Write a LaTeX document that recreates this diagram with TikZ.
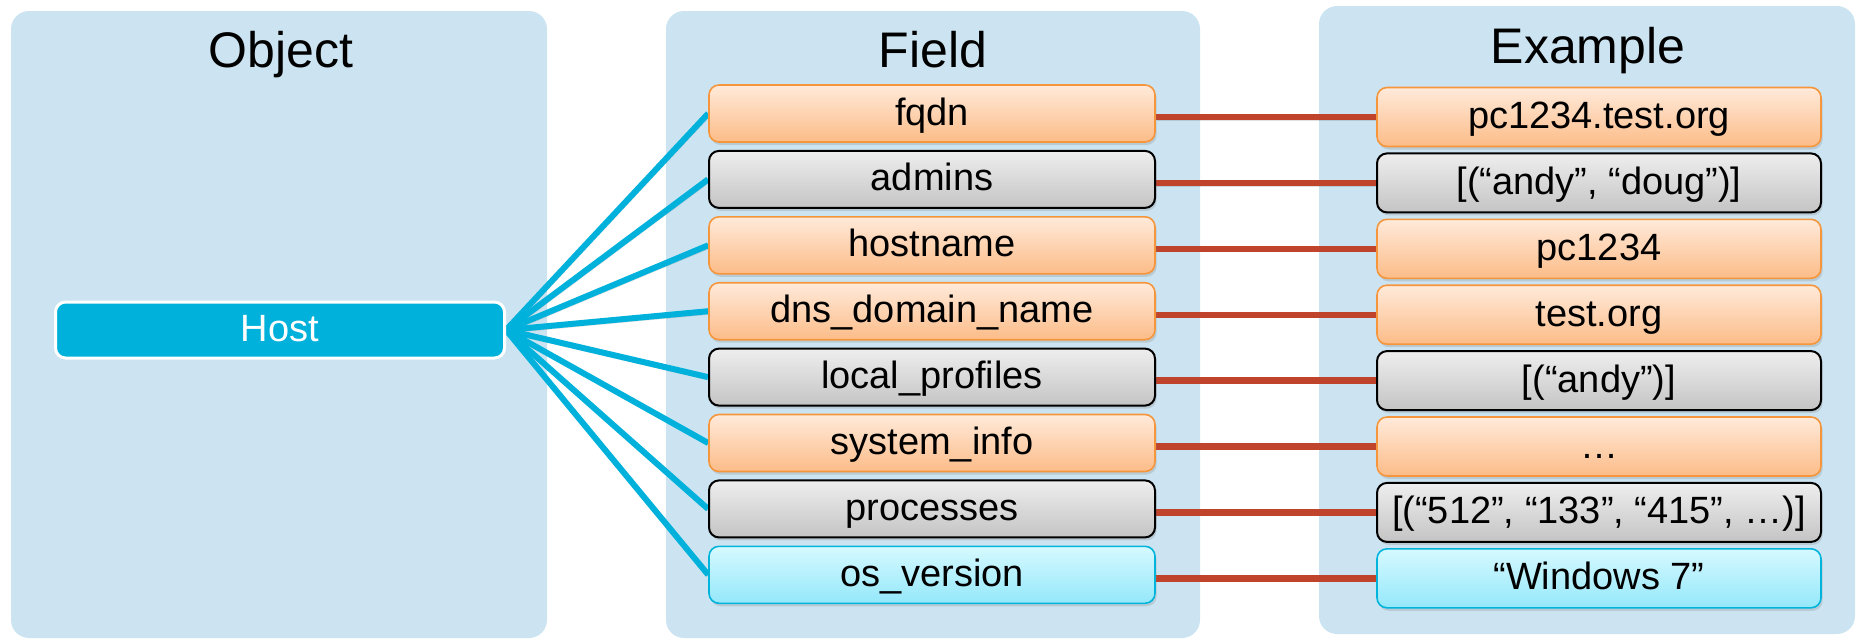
\documentclass[tikz,border=0pt]{standalone}
\usepackage{fontspec}
\setmainfont{Liberation Sans}
\usetikzlibrary{shadows}

\definecolor{panel}{RGB}{204,228,241}
\definecolor{hostblue}{RGB}{0,178,219}
\definecolor{linkred}{RGB}{192,68,44}
\definecolor{orangetop}{RGB}{255,234,218}
\definecolor{orangebot}{RGB}{252,188,136}
\definecolor{orangeedge}{RGB}{245,150,60}
\definecolor{graytop}{RGB}{238,238,238}
\definecolor{graybot}{RGB}{196,196,196}
\definecolor{cyantop}{RGB}{214,249,255}
\definecolor{cyanbot}{RGB}{148,232,250}
\definecolor{cyanedge}{RGB}{0,180,220}

\pgfdeclarelayer{panels}
\pgfdeclarelayer{links}
\pgfsetlayers{panels,links,main}

\begin{document}
\begin{tikzpicture}[x=0.5pt,y=-0.5pt,
  panelbox/.style={fill=panel, rounded corners=9pt},
  title/.style={font=\fontsize{25}{30}\selectfont, anchor=base},
  boxtext/.style={font=\fontsize{19}{23}\selectfont, text height=15pt, text depth=3.5pt},
  box/.style={boxtext, rounded corners=5pt, inner sep=0pt,
    drop shadow={shadow xshift=0.8pt, shadow yshift=-1.5pt, opacity=0.25}},
  fieldbox/.style={box, minimum width=223pt, minimum height=28.5pt},
  examplebox/.style={box, minimum width=222pt, minimum height=29.5pt},
  orangebox/.style={draw=orangeedge, line width=0.8pt, top color=orangetop, bottom color=orangebot},
  graybox/.style={draw=black, line width=1pt, top color=graytop, bottom color=graybot},
  cyanbox/.style={draw=cyanedge, line width=0.8pt, top color=cyantop, bottom color=cyanbot},
  hostnode/.style={boxtext, fill=hostblue, draw=white, line width=1.5pt, rounded corners=5pt,
    minimum width=224.5pt, minimum height=28pt, inner sep=0pt, text=white},
  lineshadow/.style={preaction={draw=black, opacity=0.12, transform canvas={xshift=0.6pt, yshift=-1.5pt}}},
  blueline/.style={lineshadow, hostblue, line width=3pt},
  redline/.style={lineshadow, linkred, line width=3.2pt},
]
\useasboundingbox (0,0) rectangle (1858,639);

% column panels
\begin{pgfonlayer}{panels}
  \fill[panelbox] (11,11) rectangle (547,638);
  \fill[panelbox] (666,11) rectangle (1200,638);
  \fill[panelbox] (1319,6) rectangle (1855,634);
\end{pgfonlayer}

% column titles
\node[title] (tobj) at (281,67) {Object};
\node[title] (tfield) at (933,67) {Field};
\node[title] (tex) at (1588,63) {Example};

% object
\node[hostnode] (host) at (280,330) {Host};

% fields
\node[fieldbox, orangebox] (f1) at (932,113.5) {fqdn};
\node[fieldbox, graybox]   (f2) at (932,179.4) {admins};
\node[fieldbox, orangebox] (f3) at (932,245.3) {hostname};
\node[fieldbox, orangebox] (f4) at (932,311.2) {dns\_domain\_name};
\node[fieldbox, graybox]   (f5) at (932,377.1) {local\_profiles};
\node[fieldbox, orangebox] (f6) at (932,443.0) {system\_info};
\node[fieldbox, graybox]   (f7) at (932,508.9) {processes};
\node[fieldbox, cyanbox]   (f8) at (932,574.8) {os\_version};

% examples
\node[examplebox, orangebox] (e1) at (1599,117) {pc1234.test.org};
\node[examplebox, graybox]   (e2) at (1599,182.9) {[(“andy”, “doug”)]};
\node[examplebox, orangebox] (e3) at (1599,248.8) {pc1234};
\node[examplebox, orangebox] (e4) at (1599,314.7) {test.org};
\node[examplebox, graybox]   (e5) at (1599,380.6) {[(“andy”)]};
\node[examplebox, orangebox] (e6) at (1599,446.5) {…};
\node[examplebox, graybox]   (e7) at (1599,512.4) {[(“512”, “133”, “415”, …)]};
\node[examplebox, cyanbox]   (e8) at (1599,578.3) {“Windows 7”};

% connectors
\begin{pgfonlayer}{links}
  \foreach \i in {1,...,8} {
    \draw[blueline] (host.east) -- (f\i.west);
    \draw[redline] (e\i.west -| f\i.east) -- (e\i.west);
  }
\end{pgfonlayer}
\end{tikzpicture}
\end{document}
